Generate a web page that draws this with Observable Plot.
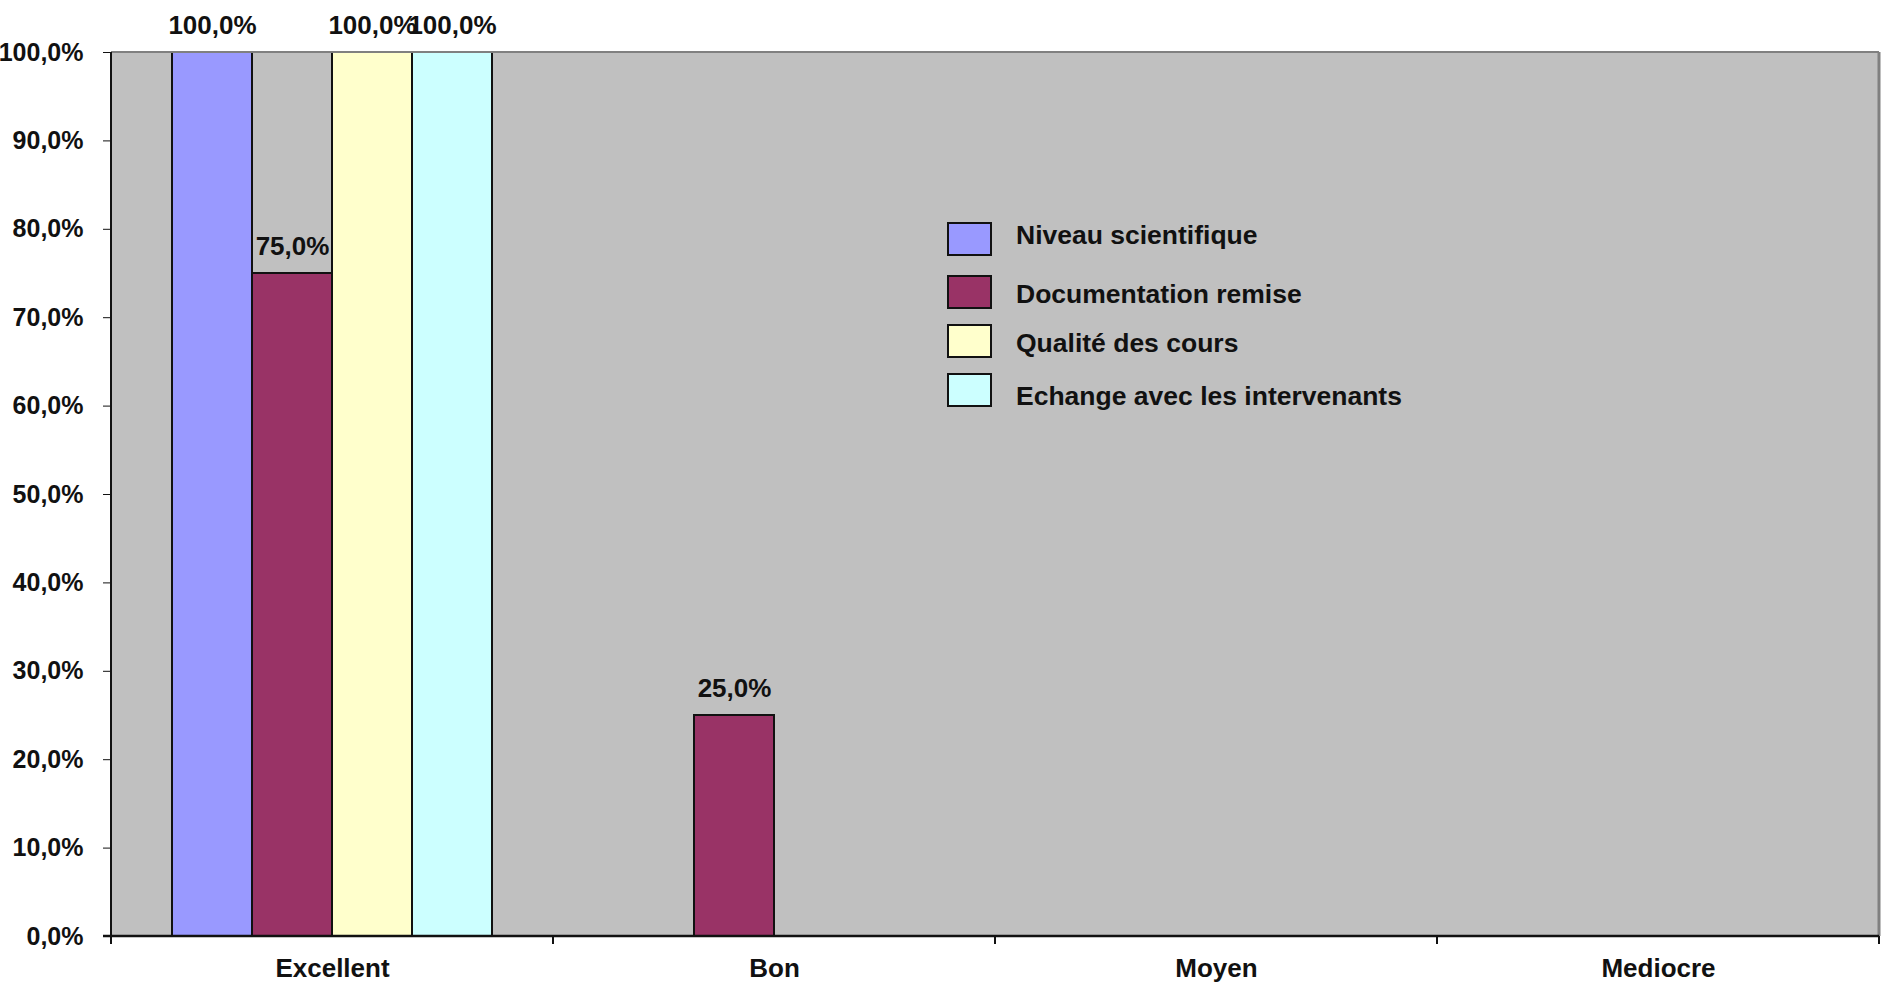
<!DOCTYPE html>
<html>
<head>
<meta charset="utf-8">
<script src="https://cdn.jsdelivr.net/npm/d3@7"></script>
<script src="https://cdn.jsdelivr.net/npm/@observablehq/plot@0.6"></script>
<style>
  html, body { margin: 0; padding: 0; background: #ffffff; }
  #wrap { position: relative; width: 1883px; height: 987px; overflow: hidden; font-family: "Liberation Sans", Arial, sans-serif; }
  #legend { position: absolute; left: 947px; top: 222px; }
  .item { position: absolute; left: 0; height: 34px; white-space: nowrap; }
  .sw { position: absolute; left: 0; top: 0; width: 41px; height: 30px; border: 2px solid #111; }
  .lab { position: absolute; left: 69px; font-weight: bold; font-size: 26.5px; color: #111; line-height: 30px; }
</style>
</head>
<body>
<div id="wrap"></div>
<script>
const categories = ["Excellent", "Bon", "Moyen", "Mediocre"];
const series = ["Niveau scientifique", "Documentation remise", "Qualité des cours", "Echange avec les intervenants"];
const colors = ["#9999ff", "#993366", "#ffffcc", "#ccffff"];
const niveauScientifique = [1.00, 0.00, 0.00, 0.00];
const documentationRemise = [0.75, 0.25, 0.00, 0.00];
const qualiteDesCours = [1.00, 0.00, 0.00, 0.00];
const echangeIntervenants = [1.00, 0.00, 0.00, 0.00];
const yTicks = [0, 0.1, 0.2, 0.3, 0.4, 0.5, 0.6, 0.7, 0.8, 0.9, 1.0];

const valuesBySeries = [niveauScientifique, documentationRemise, qualiteDesCours, echangeIntervenants];
const rows = [];
series.forEach((s, j) => categories.forEach((c, i) => rows.push({category: c, series: s, value: valuesBySeries[j][i]})));
const shown = rows.filter(d => d.value > 0);
const pct = d => (d * 100).toFixed(1).replace(".", ",") + "%";

const W = 1883, H = 987;
const svg = Plot.plot({
  width: W,
  height: H,
  marginLeft: 110,
  marginRight: 4,
  marginTop: 52,
  marginBottom: 51,
  style: {fontFamily: "'Liberation Sans', Arial, sans-serif", fontWeight: "bold", fontSize: "25px", color: "#111", background: "transparent"},
  fx: {domain: categories, padding: 0, label: null, tickSize: 0, tickPadding: 22, axis: "bottom"},
  x: {domain: series, axis: null, paddingInner: 0, paddingOuter: 0.745, align: 0.5},
  y: {domain: [0, 1], ticks: yTicks, tickFormat: pct, tickSize: 8, tickPadding: 20, label: null},
  color: {domain: series, range: colors},
  marks: [
    Plot.barY(shown, {fx: "category", x: "series", y: "value", fill: "series", stroke: "#111", strokeWidth: 2, inset: 0}),
    Plot.text(shown, {fx: "category", x: "series", y: "value", text: d => pct(d.value), dy: -27, fontSize: 26, fontWeight: "bold", fill: "#111"})
  ]
});

// plot background, axis lines and boundary ticks drawn from Plot's own scales
const fx = svg.scale("fx"), y = svg.scale("y");
const left = fx.apply(categories[0]);
const right = fx.apply(categories[categories.length - 1]) + fx.bandwidth;
const yb = y.apply(0), yt = y.apply(1);
const root = d3.select(svg);
root.insert("rect", ":first-child")
  .attr("x", left).attr("y", yt).attr("width", right - left).attr("height", yb - yt).attr("fill", "#c0c0c0");
const g = root.append("g");
g.append("line").attr("x1", left).attr("x2", right).attr("y1", yt).attr("y2", yt).attr("stroke", "#808080").attr("stroke-width", 2);
g.append("line").attr("x1", right).attr("x2", right).attr("y1", yt).attr("y2", yb).attr("stroke", "#808080").attr("stroke-width", 3);
g.append("line").attr("x1", left).attr("x2", left).attr("y1", yt).attr("y2", yb + 8).attr("stroke", "#111").attr("stroke-width", 2);
g.append("line").attr("x1", left - 8).attr("x2", right).attr("y1", yb).attr("y2", yb).attr("stroke", "#111").attr("stroke-width", 2.5);
categories.slice(1).map(c => fx.apply(c)).concat([right]).forEach(xx => {
  g.append("line").attr("x1", xx).attr("x2", xx).attr("y1", yb).attr("y2", yb + 8).attr("stroke", "#111").attr("stroke-width", 2);
});
root.selectAll('g[aria-label="fx-axis tick label"]').attr("font-size", 26);

const wrap = document.getElementById("wrap");
wrap.appendChild(svg);
svg.style.position = "absolute";
svg.style.left = "0px";
svg.style.top = "0px";

const itemTops = [0, 53, 102, 151];
const labelTops = [-2, 4, 4, 8];
const legend = document.createElement("div");
legend.id = "legend";
series.forEach((s, j) => {
  const it = document.createElement("div");
  it.className = "item";
  it.style.top = itemTops[j] + "px";
  const sw = document.createElement("div");
  sw.className = "sw";
  sw.style.background = colors[j];
  const lab = document.createElement("div");
  lab.className = "lab";
  lab.style.top = labelTops[j] + "px";
  lab.textContent = s;
  it.appendChild(sw);
  it.appendChild(lab);
  legend.appendChild(it);
});
wrap.appendChild(legend);
</script>
</body>
</html>
